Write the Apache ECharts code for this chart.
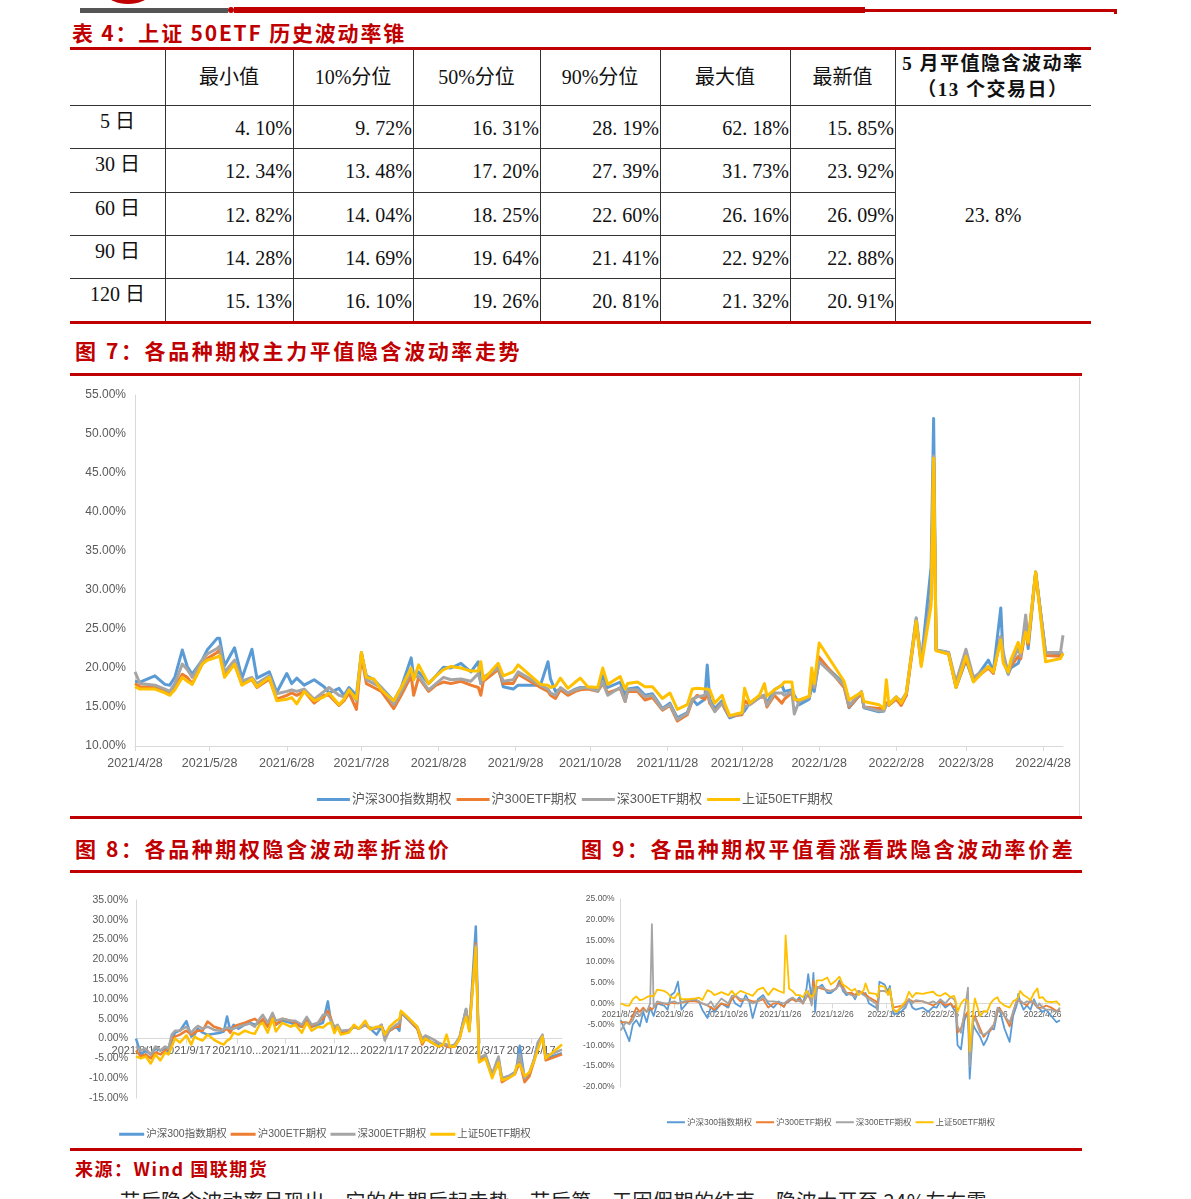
<!DOCTYPE html>
<html><head><meta charset="utf-8">
<script src="https://cdn.jsdelivr.net/npm/echarts@6/dist/echarts.min.js"></script>
<style>
html,body{margin:0;padding:0;background:#fff;}
body{width:1191px;height:1199px;overflow:hidden;position:relative;font-family:"Noto Sans CJK SC",sans-serif;}
.bar{position:absolute;}
.title{position:absolute;color:#c00000;font-weight:bold;font-size:21px;line-height:26px;letter-spacing:2.6px;white-space:nowrap;font-family:"Noto Sans CJK SC",sans-serif;}
.cell{position:absolute;white-space:nowrap;font-family:"Liberation Serif","Noto Sans CJK SC",serif;font-size:20px;color:#111;line-height:24px;}
.hd{position:absolute;white-space:nowrap;font-family:"Liberation Serif","Noto Sans CJK SC",sans-serif;font-weight:bold;font-size:19px;letter-spacing:1.5px;color:#111;line-height:24px;text-align:center;}
.vl{position:absolute;width:1px;background:#333;}
.hl{position:absolute;height:1px;background:#333;}
.chart{position:absolute;}
</style></head><body>

<!-- page header decoration -->
<div class="bar" style="left:108px;top:-14px;width:40px;height:18px;border-radius:50%;background:#c00000;"></div>
<div class="bar" style="left:80px;top:8px;width:148px;height:5px;background:#555;"></div>
<div class="bar" style="left:228px;top:7px;width:6px;height:6px;border-radius:50%;background:#c00000;"></div>
<div class="bar" style="left:234px;top:7px;width:631px;height:6px;background:#c00000;"></div>
<div class="bar" style="left:865px;top:9px;width:252px;height:3px;background:#c00000;"></div>
<div class="bar" style="left:1114px;top:9px;width:3px;height:5px;background:#c00000;"></div>

<div class="title" style="left:72px;top:19px;letter-spacing:1.8px;">表 4：上证 50ETF 历史波动率锥</div>
<div class="bar" style="left:70px;top:47px;width:1021px;height:3px;background:#c00000;"></div>
<div id="cone"></div>
<div class="bar" style="left:70px;top:321px;width:1021px;height:3px;background:#c00000;"></div>

<div class="title" style="left:75px;top:337px;">图 7：各品种期权主力平值隐含波动率走势</div>
<div class="bar" style="left:70px;top:373px;width:1012px;height:3px;background:#c00000;"></div>
<div class="bar" style="left:1079px;top:377px;width:1px;height:440px;background:#d9d9d9;"></div>
<div id="c7" class="chart" style="left:70px;top:377px;width:1010px;height:438px;"></div>
<div class="bar" style="left:70px;top:816px;width:1012px;height:3px;background:#c00000;"></div>

<div class="title" style="left:75px;top:835px;">图 8：各品种期权隐含波动率折溢价</div>
<div class="title" style="left:581px;top:835px;">图 9：各品种期权平值看涨看跌隐含波动率价差</div>
<div class="bar" style="left:70px;top:870px;width:1012px;height:3px;background:#c00000;"></div>
<div id="c8" class="chart" style="left:70px;top:880px;width:510px;height:266px;"></div>
<div id="c9" class="chart" style="left:580px;top:880px;width:502px;height:262px;"></div>
<div class="bar" style="left:70px;top:1148px;width:1012px;height:3px;background:#c00000;"></div>
<div class="title" style="left:75px;top:1155px;font-size:18px;letter-spacing:1.5px;">来源：Wind 国联期货</div>
<div style="position:absolute;left:120px;top:1186px;font-size:20px;color:#222;white-space:nowrap;letter-spacing:0.5px;">节后隐含波动率呈现出，它的先期后起走势，节后第一天因假期的结束，隐波大开至 24%左右震</div>

<script>
// ---------- Table 4 data ----------
const coneHeaders = ['最小值','10%分位','50%分位','90%分位','最大值','最新值'];
const coneRowLabels = ['5 日','30 日','60 日','90 日','120 日'];
const coneMin   = [4.10, 12.34, 12.82, 14.28, 15.13];
const coneP10   = [9.72, 13.48, 14.04, 14.69, 16.10];
const coneP50   = [16.31, 17.20, 18.25, 19.64, 19.26];
const coneP90   = [28.19, 27.39, 22.60, 21.41, 20.81];
const coneMax   = [62.18, 31.73, 26.16, 22.92, 21.32];
const coneLast  = [15.85, 23.92, 26.09, 22.88, 20.91];
const mayIVHeader = ['5 月平值隐含波动率','（13 个交易日）'];
const mayIV = '23. 8%';

// ---------- Chart series names ----------
const seriesNames = ['沪深300指数期权','沪300ETF期权','深300ETF期权','上证50ETF期权'];
const seriesColors = ['#5B9BD5','#ED7D31','#A5A5A5','#FFC000'];

// ---------- 图7 data (%), 2021/4/28 - 2022/5/6 ----------
const dates7 = [
 '2021-04-28','2021-04-30','2021-05-06','2021-05-10','2021-05-12','2021-05-14','2021-05-17','2021-05-19','2021-05-21','2021-05-25','2021-05-27','2021-05-31',
 '2021-06-01','2021-06-03','2021-06-07','2021-06-10','2021-06-14','2021-06-16','2021-06-21','2021-06-24','2021-06-28','2021-06-30',
 '2021-07-02','2021-07-05','2021-07-09','2021-07-13','2021-07-15','2021-07-19','2021-07-21','2021-07-23','2021-07-26','2021-07-28','2021-07-30',
 '2021-08-02','2021-08-05','2021-08-10','2021-08-13','2021-08-17','2021-08-18','2021-08-20','2021-08-24','2021-08-27','2021-08-30',
 '2021-09-02','2021-09-06','2021-09-10','2021-09-13','2021-09-14','2021-09-15','2021-09-21','2021-09-23','2021-09-27','2021-09-29',
 '2021-10-08','2021-10-11','2021-10-12','2021-10-14','2021-10-16','2021-10-19','2021-10-22','2021-10-24','2021-10-27','2021-10-31',
 '2021-11-02','2021-11-04','2021-11-09','2021-11-11','2021-11-12','2021-11-16','2021-11-19','2021-11-22','2021-11-26','2021-11-29',
 '2021-12-02','2021-12-06','2021-12-08','2021-12-10','2021-12-13','2021-12-14','2021-12-15','2021-12-17','2021-12-20','2021-12-21','2021-12-23','2021-12-28','2021-12-29','2021-12-31',
 '2022-01-04','2022-01-06','2022-01-07','2022-01-10','2022-01-13','2022-01-14','2022-01-17','2022-01-18','2022-01-20','2022-01-24','2022-01-25','2022-01-26','2022-01-28',
 '2022-02-07','2022-02-09','2022-02-14','2022-02-15','2022-02-21','2022-02-23','2022-02-24','2022-02-25','2022-02-28',
 '2022-03-02','2022-03-04','2022-03-08','2022-03-10','2022-03-14','2022-03-15','2022-03-16','2022-03-21','2022-03-24','2022-03-28','2022-03-31',
 '2022-04-06','2022-04-08','2022-04-11','2022-04-12','2022-04-14','2022-04-15','2022-04-18','2022-04-19','2022-04-21','2022-04-22','2022-04-25','2022-04-29','2022-05-05','2022-05-06'
];
const hs300Idx7 = [
 18.3,18.2,19.0,17.9,17.8,18.8,22.3,20.2,19.2,21.0,22.3,23.8,
 23.8,20.3,22.6,18.7,22.4,18.7,19.5,16.9,19.3,18.0,
 18.7,17.8,18.5,17.6,16.8,17.4,16.5,17.5,16.5,21.9,19.0,
 18.5,17.5,15.8,17.5,21.3,19.0,19.5,18.0,19.0,20.1,
 20.0,20.6,19.5,20.8,18.0,18.5,20.3,17.6,17.3,17.8,
 17.8,20.8,18.6,17.0,17.3,16.8,17.3,17.5,17.5,17.3,
 19.0,17.5,18.2,16.5,17.3,17.5,16.5,16.7,14.8,15.5,
 13.6,14.3,16.0,15.3,16.0,20.4,16.0,14.8,15.8,14.8,13.6,14.2,14.5,15.5,
 16.3,16.5,15.5,17.2,17.8,17.0,17.2,16.5,15.3,16.0,17.7,17.0,21.0,
 18.0,14.9,16.8,14.9,14.4,14.5,15.5,15.3,16.3,
 15.5,16.5,26.4,20.7,33.0,52.0,22.3,22.0,17.5,21.0,18.3,
 21.0,19.6,27.7,21.0,19.2,20.0,20.6,21.5,25.5,22.5,32.3,22.0,21.8,22.0
];
const hu300Etf7 = [
 18.0,17.6,17.5,17.0,16.6,17.5,19.2,18.8,18.0,20.5,21.2,22.0,
 22.3,19.0,20.5,17.9,18.5,17.5,18.6,16.0,16.5,16.8,
 16.5,17.0,15.5,16.5,16.5,15.2,15.8,16.8,14.7,21.5,18.0,
 17.5,17.0,14.8,16.5,19.0,16.5,18.8,17.0,17.8,18.2,
 18.0,18.3,17.8,17.5,16.5,18.3,19.8,18.0,18.0,19.2,
 17.5,17.0,16.5,16.1,17.2,16.5,17.0,17.2,17.3,17.0,
 18.0,16.8,17.4,15.7,17.0,17.0,15.9,16.2,14.6,15.2,
 13.2,14.0,15.8,16.5,16.0,16.8,15.5,14.5,15.5,14.8,13.8,14.0,15.8,15.3,
 16.2,16.3,15.0,16.5,15.5,16.0,16.8,16.0,15.8,16.3,19.2,17.5,21.4,
 17.5,15.0,16.8,15.0,14.8,14.8,15.5,15.2,16.0,
 15.2,16.5,25.8,20.5,29.0,47.0,22.3,21.8,17.6,21.2,18.5,
 20.0,19.3,24.0,21.5,19.4,20.2,21.5,21.2,25.0,23.0,32.2,21.6,21.5,21.8
];
const shen300Etf7 = [
 19.5,18.0,17.8,17.3,17.0,18.0,20.5,19.8,18.8,21.0,21.8,22.5,
 22.8,19.5,21.0,18.3,18.8,18.0,19.0,16.7,17.0,17.2,
 17.0,17.3,16.0,17.0,17.5,16.5,16.3,17.2,15.8,22.0,18.5,
 18.0,17.5,15.3,17.0,19.5,18.8,19.0,17.2,18.0,18.8,
 18.5,18.6,18.3,19.3,18.0,18.8,20.0,18.3,18.5,19.5,
 17.8,17.3,16.8,16.5,17.5,16.8,17.2,17.4,17.5,17.0,
 18.2,16.5,17.5,15.7,17.2,17.2,16.3,16.5,14.7,15.3,
 13.4,14.2,16.0,16.3,16.5,17.2,15.8,14.4,15.5,15.0,13.8,14.2,15.0,15.3,
 16.2,16.5,15.2,16.8,16.8,16.5,17.0,14.1,15.8,16.2,19.0,17.5,20.8,
 17.8,15.2,17.0,15.0,14.5,14.5,15.3,15.3,16.2,
 15.8,16.8,26.4,20.8,29.0,47.2,22.3,22.0,18.2,22.4,18.8,
 20.2,19.5,24.0,22.0,19.2,20.5,22.5,21.5,26.8,23.5,32.3,22.0,22.0,24.2
];
const sz50Etf7 = [
 17.6,17.3,17.3,16.8,16.5,17.2,18.8,18.3,17.9,20.5,21.0,21.4,
 21.6,18.8,20.5,17.8,18.6,17.6,18.8,15.8,16.0,16.2,
 15.4,17.0,15.8,16.3,16.8,15.3,16.0,17.2,16.0,22.0,18.8,
 18.6,17.2,15.8,17.5,20.0,18.5,20.4,18.0,19.0,19.8,
 20.2,20.0,19.6,19.6,20.8,18.5,20.6,19.0,19.5,20.4,
 17.9,17.8,17.5,17.7,18.7,17.4,18.2,18.7,17.6,17.5,
 20.0,17.9,18.9,17.3,18.0,18.2,17.6,17.6,16.1,16.8,
 14.7,15.3,17.3,17.4,17.3,17.3,17.2,15.5,16.5,15.5,13.9,14.3,17.4,15.5,
 16.5,18.0,16.4,17.2,17.8,18.2,18.2,16.0,15.9,16.4,20.0,18.0,23.2,
 18.3,15.9,16.9,15.7,15.3,14.8,18.5,15.3,16.3,
 15.5,16.8,26.0,20.2,28.0,46.9,22.2,21.8,17.5,21.5,18.2,
 20.2,19.5,23.6,20.6,19.5,21.0,23.3,22.0,24.6,23.3,32.3,20.8,21.2,21.9
];
const xTicks7 = ['2021/4/28','2021/5/28','2021/6/28','2021/7/28','2021/8/28','2021/9/28','2021/10/28','2021/11/28','2021/12/28','2022/1/28','2022/2/28','2022/3/28','2022/4/28'];

// ---------- 图8 data (%), 2021/8/17 - 2022/5/6 ----------
const dates8 = [
 '2021-08-17','2021-08-20','2021-08-23','2021-08-26','2021-08-29',
 '2021-09-01','2021-09-04','2021-09-06','2021-09-08','2021-09-10','2021-09-13','2021-09-17','2021-09-20','2021-09-22','2021-09-24','2021-09-27','2021-09-30',
 '2021-10-04','2021-10-08','2021-10-10','2021-10-12','2021-10-14','2021-10-16','2021-10-19','2021-10-23','2021-10-26','2021-10-29',
 '2021-11-01','2021-11-03','2021-11-06','2021-11-09','2021-11-11','2021-11-15','2021-11-20','2021-11-23','2021-11-27','2021-11-30',
 '2021-12-03','2021-12-07','2021-12-10','2021-12-13','2021-12-15','2021-12-17','2021-12-19','2021-12-21','2021-12-26','2021-12-29',
 '2022-01-01','2022-01-05','2022-01-08','2022-01-12','2022-01-15','2022-01-17','2022-01-20','2022-01-24','2022-01-26','2022-01-27','2022-01-31',
 '2022-02-06','2022-02-09','2022-02-11','2022-02-15','2022-02-19','2022-02-22','2022-02-24','2022-02-26',
 '2022-03-01','2022-03-04','2022-03-06','2022-03-08','2022-03-10','2022-03-14','2022-03-16','2022-03-18','2022-03-20','2022-03-24','2022-03-27','2022-03-28','2022-03-30',
 '2022-04-03','2022-04-07','2022-04-08','2022-04-10','2022-04-13','2022-04-16','2022-04-19','2022-04-21','2022-04-24','2022-04-26','2022-05-06'
];
const hs300Idx8 = [
 0,-4,-3,-4,-2.5,
 -3,-2.5,-3.5,-0.5,1.5,2,4.4,0.5,1,2.5,1.5,1,
 1.2,1.5,1.8,5.6,2,3.5,2.5,3.5,4,3.5,
 4,4.5,3.5,5,3.5,4.5,4,3.5,3,4.5,
 3,3.5,4,9.4,4,2.5,3.2,1.5,2,3,
 2.5,3.5,2.5,1,3,1.5,2,3,2,6.5,5,
 2.5,-1,0.5,-1,-1.5,-1.5,-1.5,-2,
 -1.5,0,4,7.5,2,28.3,-5,-5,-4.5,-9,-7,-5,-10,
 -9.5,-8.5,-7.5,-1.8,-10,-9,-5,-1.5,0.5,-5,-3.7
];
const hu300Etf8 = [
 -3,-4.5,-4,-5,-3.5,
 -4,-3,-2.5,0,0.5,1,2,1,1.5,2,2,4.3,
 3,2.5,2,2.5,1.5,3,3.5,4,4.5,5,
 4,5,3,5.5,3.5,5,4.5,4,3,5,
 3,4,5,7,5,2.5,3,1.5,2,3,
 2.5,3.5,2.5,2.5,3.5,0.5,2,3,3,6.5,5,
 2.5,-1.5,0,-1,-2,-1.5,-2,-2.2,
 -2,0,3.5,7,2.5,24,-5.5,-5,-5,-9.5,-6.5,-5.5,-11,
 -10,-9,-8,-6,-11,-9.5,-5.5,-2,0.5,-5.5,-4
];
const shen300Etf8 = [
 -2,-3,-2.5,-4,-2,
 -3,-2,-2.5,1,2,2,3,1.5,2.5,3.2,2.5,3,
 2.2,2,2.3,2.8,2.5,2.5,3,3.5,3.8,3,
 5,6,4,6.5,4.5,5,4.5,4.5,3.5,5.5,
 3.5,4,6,6,4.5,3,3.5,2,2.2,3,
 2.5,3.5,2.8,2.5,3.5,-0.5,2.2,3.5,4,6.8,5,
 3,0,0.8,0,-1,-1.5,-1.5,-2,
 -1.5,0.5,4,7.5,2,23.5,-5,-4.5,-4,-9,-5.5,-4.5,-10,
 -9.5,-8.5,-7.5,-4,-10,-8.5,-5,-1,1,-4.5,-2.8
];
const sz50Etf8 = [
 -4.5,-5,-4.5,-6.3,-4,
 -5.5,-3.5,-4,-2,0,-1,0.8,-1.5,0.5,0,-0.5,1,
 -0.3,-1.2,-1.5,-0.5,0,1.5,1,2,1.5,1.2,
 3.5,4,1.5,5,1.8,4,3,3.5,1.5,4,
 2,3,2.8,3.8,4,1.4,3,1,1.5,3.5,
 2.5,4.5,2.3,3,3,1,3,4.5,5,7,5.5,
 3,-1,0,-1,-2,-1.5,1,-2,
 -2,0,3,5.5,1.8,23,-6,-5.5,-5,-10,-7,-6,-10.5,
 -10,-9,-7,-6.5,-9.5,-8.5,-5.5,-3,0.5,-5,-1.5
];
const xTicks8 = ['2021/8/17','2021/9/17','2021/10/18','2021/11/17','2021/12/17','2022/1/17','2022/2/17','2022/3/17','2022/4/17'];

// ---------- 图9 data (%), 2021/8/26 - 2022/5/6 ----------
const dates9 = [
 '2021-08-26','2021-08-29','2021-08-31',
 '2021-09-02','2021-09-04','2021-09-06','2021-09-08','2021-09-10','2021-09-12','2021-09-13','2021-09-14','2021-09-16','2021-09-20','2021-09-22','2021-09-24','2021-09-26','2021-09-28','2021-09-30',
 '2021-10-04','2021-10-08','2021-10-10','2021-10-12','2021-10-15','2021-10-17','2021-10-19','2021-10-23','2021-10-27','2021-10-29','2021-10-31',
 '2021-11-03','2021-11-06','2021-11-08','2021-11-10','2021-11-13','2021-11-16','2021-11-19','2021-11-22','2021-11-25','2021-11-28','2021-11-29',
 '2021-12-01','2021-12-03','2021-12-05','2021-12-07','2021-12-09','2021-12-11','2021-12-12','2021-12-14','2021-12-15','2021-12-16','2021-12-17','2021-12-20','2021-12-23','2021-12-25','2021-12-28','2021-12-30',
 '2022-01-01','2022-01-03','2022-01-06','2022-01-08','2022-01-10','2022-01-13','2022-01-14','2022-01-16','2022-01-20','2022-01-21','2022-01-22','2022-01-25','2022-01-27','2022-01-28','2022-01-30',
 '2022-02-01','2022-02-04','2022-02-06','2022-02-08','2022-02-10','2022-02-12','2022-02-16','2022-02-19','2022-02-22','2022-02-24','2022-02-26',
 '2022-03-01','2022-03-04','2022-03-06','2022-03-07','2022-03-08','2022-03-10','2022-03-12','2022-03-14','2022-03-15','2022-03-17','2022-03-18','2022-03-21','2022-03-23','2022-03-25','2022-03-27','2022-03-29','2022-03-31',
 '2022-04-01','2022-04-04','2022-04-07','2022-04-09','2022-04-11','2022-04-12','2022-04-13','2022-04-15','2022-04-17','2022-04-19','2022-04-21','2022-04-23','2022-04-24','2022-04-26','2022-04-28','2022-05-01','2022-05-04','2022-05-06'
];
const hs300Idx9 = [
 -4,-7,-9,
 -5,-4,-5.5,-2,-4.5,-1,-2,-3,0,-0.5,-1.5,2,2.6,5.2,-1.5,
 0.5,0.8,0.5,-1.5,-3.5,-0.8,-2,0,-1,1.5,0,
 -0.8,2,0.5,-3.5,1,2,0,-1,0.5,-0.8,0,
 0.5,1.2,0.5,1.5,0,3.5,7,1,7.3,-2,3.5,4.5,2.5,2.5,3.5,5.5,
 3,2,2.5,1,3,2,2.5,0,-1,-1.5,5.2,4.5,2.8,4.2,-2.5,
 -2.5,-1.8,-1,1,-1,-1.5,-1,-2,-0.8,-1,0.5,
 -1,0,-1.5,-2,-10,-11,-4,-2,-18,-5,-6,-8,-10,-8.5,-6,-6.2,-2,
 -1,-6,-9.2,-3,-0.5,2.3,0.5,-1.5,-0.5,-1.5,1,-0.8,-1,-2,-1.5,-3,-4.5,-4
];
const hu300Etf9 = [
 -4.5,-4.5,-4.7,
 -3,-1,-2,-1,-2,-1,-1.5,-1.5,0,0,-0.3,0.2,0,0,0.2,
 0.5,0.5,0.3,0,-0.5,-1,-1.5,0,-0.5,1,1.8,
 0.5,1,0.8,0.5,0.5,1,-1,0,0,-0.8,0,
 0.8,1,0.5,1,0,1.5,2,0,5.5,1.5,4,3.5,3.2,3,3.5,5,
 4,2.5,2.5,2,3,2.5,2.5,1.5,0.5,0,3,3,2.5,3,-1,
 -0.8,-0.5,0,1,0.5,0.5,0.5,0,-0.5,0,0.5,
 -0.5,0,-1,-0.3,-7,-6,-3,-2,-12,-4,-3,-6,-8,-7,-6.5,-5,-2,
 -1,-3,-5.5,-2,0.5,0.5,0.5,0,-0.5,0.8,0,-1,-1.2,-1,-0.5,-1,-1.8,-1.5
];
const shen300Etf9 = [
 -6.5,-4.5,-5,
 -4,-2,-3,-1.5,-2,0,19,-1,0.5,0,0,0.3,0.5,0,0.3,
 0.8,1,0.5,0,-0.5,0.5,-1,1.2,0,1.8,2,
 1,1,0.5,0,0.5,1.5,0.5,0.5,0.3,0,0.3,
 1,1.4,0.8,0.5,0.2,1.5,3,-0.5,4,1,3.8,4,3,3,3.5,4.5,
 3.5,2.5,2,1.5,3,2,2.2,1,0,-1.8,3,3,2.5,3,-1.5,
 -2,-1,-0.5,1,0,0.8,0.5,0,0.5,0,1,
 0,1.5,1,0,-5.5,-7,-2,3.8,-15,-4.5,-3.5,-7,-7.5,-7,-6,-5,-1,
 -1.5,-3,-4.5,-2,0.5,0.5,0.8,0,0.5,0.3,0.5,-1,0,-1,-1.5,-1.5,-2,-1
];
const sz50Etf9 = [
 0,-0.5,-0.5,
 1,1.7,0.8,1,1.5,1.8,1.7,1.7,3.3,3,2.5,1.5,1.2,2.5,1,
 1,1.2,1.4,0.8,3.2,2.8,2,2.7,2,3,2,
 3,2.5,2.2,1.8,3.3,3.8,2,3.6,3,2.5,16.3,
 3.5,3,2,2,1.5,3,2.5,1.5,2,3,5.5,5.5,6.2,4.5,5.5,6.4,
 4.5,4,3,3.5,2,3.2,4.8,2.5,2.3,1.5,4.2,4,2,3.5,-1.5,
 -2,-0.5,0.5,2.8,1.5,2.5,2.3,2.6,2.8,2,1.8,
 2.5,1.5,1.8,0.5,-2,0,1,0.5,-11.5,-2,1.2,-3,-1.8,-2,0,1,1.5,
 0.5,-0.5,-1,0.5,1,1.5,3,2,1.5,0.8,2.5,3.6,1.3,1.5,0.5,0.3,0.5,-0.5
];
const xTicks9 = ['2021/8/26','2021/9/26','2021/10/26','2021/11/26','2021/12/26','2022/1/26','2022/2/26','2022/3/26','2022/4/26'];

// ---------- table build ----------
(function(){
  const colX = [70,165,293,413,540,660,790,895,1091];
  const rowY = [48,105,148,192,235,278,322];
  const host = document.getElementById('cone');
  function add(cls, style, text){ const d=document.createElement('div'); d.className=cls; d.style.cssText=style; if(text!=null) d.textContent=text; host.appendChild(d); }
  for (let i=1;i<=7;i++) add('vl', `left:${colX[i]}px;top:${rowY[0]+2}px;height:${rowY[6]-rowY[0]-2}px;`);
  add('hl', `left:70px;top:${rowY[1]}px;width:1021px;`);
  for (let r=2;r<=5;r++) add('hl', `left:70px;top:${rowY[r]}px;width:825px;`);
  coneHeaders.forEach((h,i)=> add('cell', `left:${colX[i+1]}px;width:${colX[i+2]-colX[i+1]}px;top:65px;text-align:center;`, h));
  add('hd', `left:895px;width:196px;top:52px;`, mayIVHeader[0]);
  add('hd', `left:895px;width:196px;top:78px;`, mayIVHeader[1]);
  const cols = [coneMin,coneP10,coneP50,coneP90,coneMax,coneLast];
  const fmt = v => v.toFixed(2).replace('.', '. ') + '%';
  coneRowLabels.forEach((lab,r)=>{
    const top = rowY[r+1];
    add('cell', `left:70px;width:95px;top:${top+4}px;text-align:center;`, lab);
    cols.forEach((arr,c)=> add('cell', `left:${colX[c+1]}px;width:${colX[c+2]-colX[c+1]-1}px;top:${top+11}px;text-align:right;`, fmt(arr[r])));
  });
  add('cell', `left:895px;width:196px;top:203px;text-align:center;`, mayIV);
})();

// ---------- charts ----------
function ts(s){ const p = s.split(/[-\/]/); return Date.UTC(+p[0], +p[1]-1, +p[2]); }
function pairs(dates, vals){ const n=Math.min(dates.length, vals.length); const out=[]; for(let i=0;i<n;i++) out.push([ts(dates[i]), vals[i]]); return out; }

function makeChart(id, cfg){
  const el = document.getElementById(id);
  const chart = echarts.init(el, null, {renderer:'canvas'});
  const tickVals = cfg.ticks.map(ts);
  const labelMap = {}; cfg.ticks.forEach((t,i)=> labelMap[tickVals[i]] = t);
  const font = '"Liberation Sans","Noto Sans CJK SC",sans-serif';
  // x axis drawn on the zero line: shift it up from the grid bottom by the zero position
  const plotH = el.clientHeight - cfg.grid.top - cfg.grid.bottom;
  const zeroOffset = cfg.atZero ? -plotH * (0 - cfg.ymin) / (cfg.ymax - cfg.ymin) : 0;
  chart.setOption({
    animation:false,
    backgroundColor:'transparent',
    textStyle:{fontFamily:font},
    grid:cfg.grid,
    legend:{
      data:seriesNames, top:cfg.legendTop, left:'center', icon:'rect',
      itemWidth:cfg.legendW, itemHeight:cfg.legendH, itemGap:cfg.legendGap,
      textStyle:{color:'#595959', fontSize:cfg.legendFont, fontFamily:font, padding:[0,0,0,-3]}
    },
    xAxis:{
      type:'value', min:ts(cfg.xmin), max:ts(cfg.xmax), offset:zeroOffset,
      splitLine:{show:false},
      axisLine:{show:true, onZero:false, lineStyle:{color:'#d9d9d9', width:1}},
      axisTick:{show:true, customValues:tickVals, length:5, lineStyle:{color:'#d9d9d9'}},
      axisLabel:{customValues:tickVals, hideOverlap:false, color:'#595959', fontSize:cfg.xFont, margin:cfg.xMargin, fontFamily:font,
        formatter:v=>{ const s=labelMap[v]||''; return (cfg.truncate && s.length>9) ? s.slice(0,7)+'...' : s; }}
    },
    yAxis:{
      type:'value', min:cfg.ymin, max:cfg.ymax, interval:5,
      splitLine:{show:false},
      axisLine:{show:true, onZero:false, lineStyle:{color:'#d9d9d9', width:1}},
      axisTick:{show:false},
      axisLabel:{color:'#595959', fontSize:cfg.yFont, margin:cfg.yMargin, fontFamily:font, formatter:v=>v.toFixed(2)+'%'}
    },
    series: cfg.data.map((arr,i)=>({
      name:seriesNames[i], type:'line', showSymbol:false, symbol:'none',
      data:pairs(cfg.dates, arr),
      lineStyle:{color:seriesColors[i], width:cfg.lineW, join:'round'},
      itemStyle:{color:seriesColors[i]},
      z:2+i
    }))
  });
}

makeChart('c7', {
  dates:dates7, data:[hs300Idx7,hu300Etf7,shen300Etf7,sz50Etf7], ticks:xTicks7,
  xmin:'2021-04-28', xmax:'2022-05-06', ymin:10, ymax:55,
  grid:{left:65,right:17,top:18,bottom:69},
  legendTop:411, legendW:33, legendH:3, legendGap:5, legendFont:13,
  xFont:12.5, xMargin:11, yFont:12, yMargin:9, lineW:3, atZero:false, truncate:false
});
makeChart('c8', {
  dates:dates8, data:[hs300Idx8,hu300Etf8,shen300Etf8,sz50Etf8], ticks:xTicks8,
  xmin:'2021-08-17', xmax:'2022-05-06', ymin:-15, ymax:35,
  grid:{left:66,right:18,top:20,bottom:48},
  legendTop:244, legendW:25, legendH:3, legendGap:4, legendFont:10.5,
  xFont:11, xMargin:7, yFont:10.5, yMargin:8, lineW:2.5, atZero:true, truncate:true
});
makeChart('c9', {
  dates:dates9, data:[hs300Idx9,hu300Etf9,shen300Etf9,sz50Etf9], ticks:xTicks9,
  xmin:'2021-08-26', xmax:'2022-05-06', ymin:-20, ymax:25,
  grid:{left:40,right:22,top:19,bottom:55},
  legendTop:233, legendW:18, legendH:2, legendGap:4, legendFont:8.5,
  xFont:8.5, xMargin:7, yFont:8.5, yMargin:6, lineW:1.8, atZero:true, truncate:false
});
</script>
</body></html>
